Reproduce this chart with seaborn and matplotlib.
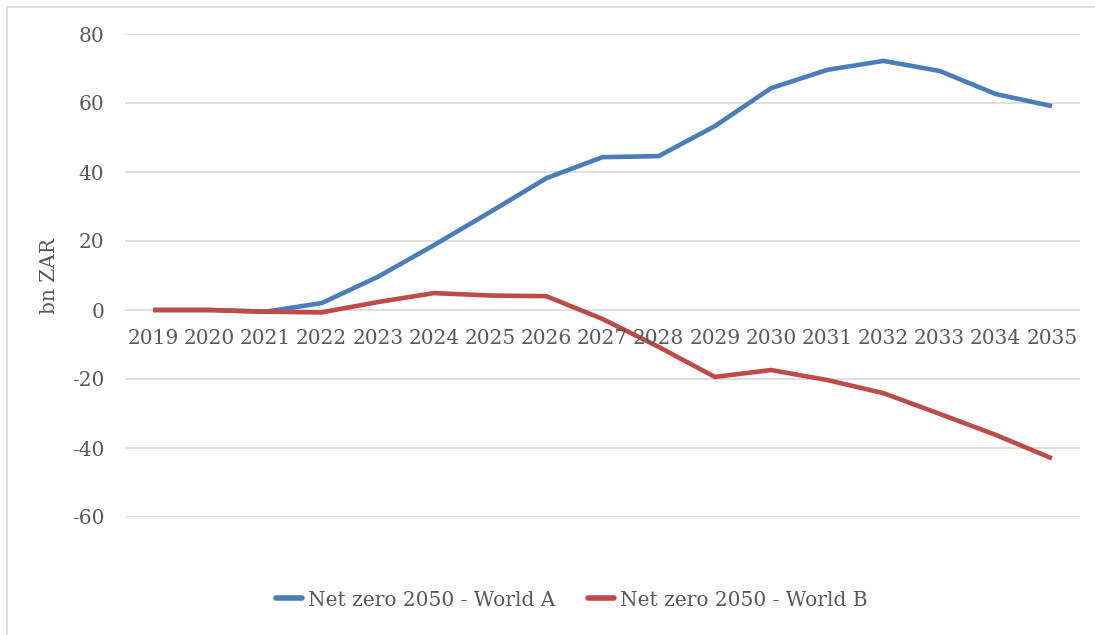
import matplotlib
matplotlib.use("Agg")
import matplotlib.pyplot as plt
import matplotlib.transforms as mtransforms
import numpy as np
import pandas as pd
import seaborn as sns

years = ["2019", "2020", "2021", "2022", "2023", "2024", "2025", "2026", "2027",
         "2028", "2029", "2030", "2031", "2032", "2033", "2034", "2035"]
world_a = [0.0, 0.0, -0.5, 2.0, 9.6, 18.8, 28.4, 38.2, 44.3,
           44.6, 53.3, 64.3, 69.6, 72.2, 69.3, 62.6, 59.1]
world_b = [0.0, 0.0, -0.5, -0.7, 2.3, 4.9, 4.2, 4.0, -2.6,
           -10.7, -19.4, -17.4, -20.3, -24.1, -30.1, -36.2, -43.0]
series_names = ["Net zero 2050 - World A", "Net zero 2050 - World B"]
series_colors = ["#4A7EBB", "#BE4B48"]
y_ticks = [-60, -40, -20, 0, 20, 40, 60, 80]
y_label = "bn ZAR"

df = pd.concat([
    pd.DataFrame({"idx": np.arange(len(years)), "value": world_a, "series": series_names[0]}),
    pd.DataFrame({"idx": np.arange(len(years)), "value": world_b, "series": series_names[1]}),
])

sns.set_theme(style="white")
plt.rcParams["font.family"] = ["DejaVu Serif"]
text_color = "#595959"

W, H = 1095, 635
fig = plt.figure(figsize=(W / 100, H / 100), dpi=100)
ax = fig.add_axes([125 / W, 1 - 517 / H, (1080 - 125) / W, (517 - 34) / H])

# light chart frame along the top and left edges
frame_kw = dict(transform=fig.transFigure, color="#D9D9D9", linewidth=1.2, zorder=0)
fig.add_artist(plt.Line2D([7 / W, 1.0], [1 - 7 / H, 1 - 7 / H], **frame_kw))
fig.add_artist(plt.Line2D([7 / W, 7 / W], [0.0, 1 - 7 / H], **frame_kw))

sns.lineplot(data=df, x="idx", y="value", hue="series", palette=series_colors,
             linewidth=3.3, ax=ax, legend=False, zorder=3)
for line in ax.lines:
    line.set_solid_joinstyle("round")
    line.set_solid_capstyle("butt")

ax.set_xlim(-0.5, len(years) - 0.5)
ax.set_ylim(-60, 80)
ax.set_yticks(y_ticks)
ax.set_yticklabels([str(v) for v in y_ticks])
ax.yaxis.grid(True, color="#D9D9D9", linewidth=1.2)
ax.set_axisbelow(True)
for s in ax.spines.values():
    s.set_visible(False)
ax.tick_params(axis="y", length=0, pad=15, labelsize=14.5, labelcolor=text_color)
ax.set_xticks([])
ax.set_xlabel("")
ax.set_ylabel(y_label, fontsize=14.5, color=text_color, labelpad=9)

# category labels sit beneath the zero line
offset = mtransforms.offset_copy(ax.transData, fig=fig, x=0, y=-28 * 72 / 100, units="points")
for i, lab in enumerate(years):
    ax.text(i, 0, lab, transform=offset, ha="center", va="center",
            fontsize=14.5, color=text_color)

handles = [plt.Line2D([], [], color=c, linewidth=4) for c in series_colors]
fig.legend(handles, series_names, loc="center", bbox_to_anchor=(572 / W, 1 - 600 / H),
           ncol=2, frameon=False, fontsize=14.5, labelcolor=text_color,
           handlelength=1.3, handletextpad=0.3, columnspacing=1.6)

fig.savefig("out.png", dpi=100)
